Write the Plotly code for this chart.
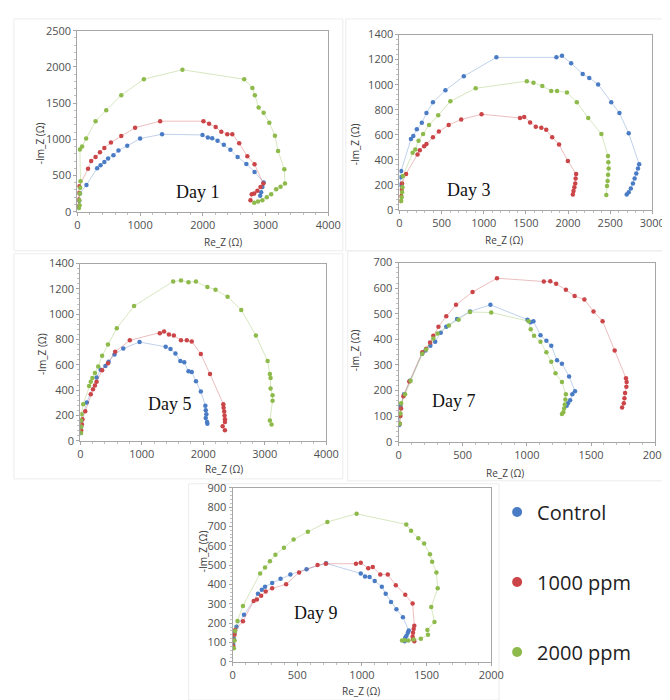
import plotly.graph_objects as go

# ---------------- data ----------------
series_names = ["Control", "1000 ppm", "2000 ppm"]
day_labels = ["Day 1", "Day 3", "Day 5", "Day 7", "Day 9"]

# Day 1
d1_ctrl_x = [20, 30, 40, 145, 315, 370, 430, 490, 575, 655, 795, 1000, 1350, 1995, 2080, 2150, 2235, 2335, 2440, 2555, 2695, 2825, 2970, 2950, 2930, 2915]
d1_ctrl_y = [60, 150, 250, 370, 600, 640, 685, 735, 780, 845, 910, 1010, 1070, 1060, 1025, 1015, 980, 925, 855, 755, 660, 550, 405, 340, 270, 220]
d1_1000_x = [15, 20, 25, 30, 170, 220, 290, 360, 430, 535, 700, 920, 1320, 2010, 2100, 2205, 2295, 2390, 2470, 2580, 2710, 2825, 2965, 2920, 2870, 2820, 2780, 2760]
d1_1000_y = [80, 170, 260, 350, 595, 700, 755, 820, 880, 955, 1045, 1160, 1250, 1250, 1215, 1170, 1105, 1070, 1070, 945, 765, 655, 390, 340, 290, 250, 240, 160]
d1_2000_x = [25, 35, 30, 40, 45, 50, 40, 75, 140, 290, 460, 700, 1060, 1675, 2660, 2790, 2830, 2890, 2970, 3060, 3150, 3200, 3300, 3310, 3240, 3170, 3090, 3020, 2950, 2880, 2820]
d1_2000_y = [50, 90, 160, 250, 330, 420, 860, 900, 1010, 1250, 1400, 1610, 1830, 1960, 1830, 1710, 1610, 1440, 1365, 1230, 1050, 840, 585, 390, 345, 310, 240, 200, 160, 140, 125]

# Day 3
d3_ctrl_x = [10, 15, 20, 136, 164, 206, 265, 320, 397, 545, 763, 1150, 1862, 1928, 2037, 2174, 2252, 2357, 2513, 2610, 2720, 2844, 2830, 2810, 2790, 2770, 2745, 2720, 2696]
d3_ctrl_y = [200, 260, 310, 565, 590, 643, 695, 773, 859, 955, 1067, 1218, 1218, 1231, 1171, 1085, 1054, 1002, 859, 773, 612, 364, 330, 290, 250, 210, 170, 140, 122]
d3_1000_x = [15, 20, 25, 30, 78, 214, 241, 292, 320, 397, 467, 584, 732, 974, 1430, 1480, 1550, 1617, 1683, 1741, 1812, 1893, 1998, 2096, 2090, 2085, 2075, 2065, 2057]
d3_1000_y = [70, 110, 160, 210, 286, 442, 476, 507, 526, 580, 625, 677, 721, 763, 734, 742, 698, 664, 656, 640, 580, 521, 390, 286, 250, 210, 180, 150, 122]
d3_2000_x = [20, 25, 30, 35, 40, 156, 187, 226, 280, 351, 460, 604, 904, 1511, 1590, 1695, 1800, 1870, 1987, 2104, 2240, 2396, 2474, 2478, 2482, 2475, 2470, 2462, 2454]
d3_2000_y = [70, 100, 140, 180, 270, 455, 481, 552, 606, 677, 755, 867, 971, 1028, 1015, 989, 950, 950, 937, 859, 734, 606, 429, 380, 330, 280, 230, 190, 117]

# Day 5
d5_ctrl_x = [10, 15, 20, 106, 265, 330, 408, 461, 556, 699, 964, 1388, 1467, 1547, 1626, 1690, 1759, 1812, 1881, 1960, 2034, 2040, 2050, 2040, 2061, 2066]
d5_ctrl_y = [60, 110, 160, 302, 500, 560, 590, 625, 682, 729, 780, 742, 724, 690, 630, 620, 548, 543, 470, 388, 276, 240, 210, 180, 147, 134]
d5_1000_x = [15, 25, 35, 80, 170, 207, 238, 265, 355, 450, 567, 805, 1293, 1362, 1441, 1521, 1637, 1732, 1812, 1960, 2109, 2326, 2330, 2340, 2345, 2352, 2352, 2315, 2352]
d5_1000_y = [80, 130, 170, 232, 367, 406, 437, 465, 556, 612, 703, 793, 850, 863, 840, 832, 793, 793, 785, 685, 527, 289, 260, 230, 200, 170, 147, 114, 83]
d5_2000_x = [10, 15, 12, 20, 48, 143, 170, 196, 238, 291, 355, 450, 593, 874, 1510, 1637, 1759, 1880, 2066, 2199, 2395, 2617, 2855, 3046, 3083, 3094, 3094, 3126, 3126, 3083, 3110]
d5_2000_y = [60, 110, 160, 210, 289, 432, 465, 496, 535, 587, 672, 760, 889, 1065, 1258, 1266, 1253, 1258, 1214, 1194, 1137, 1034, 832, 630, 527, 496, 413, 359, 315, 160, 129]

# Day 7
d7_ctrl_x = [5, 10, 15, 43, 89, 185, 210, 248, 286, 329, 372, 456, 557, 716, 1005, 1030, 1051, 1106, 1152, 1190, 1235, 1273, 1329, 1375, 1354, 1337, 1320, 1310]
d7_ctrl_y = [65, 100, 140, 185, 238, 344, 356, 375, 391, 426, 449, 480, 509, 535, 477, 467, 471, 416, 395, 375, 318, 305, 255, 197, 185, 162, 150, 140]
d7_1000_x = [10, 15, 20, 38, 84, 185, 215, 246, 271, 311, 372, 448, 577, 767, 1132, 1182, 1228, 1304, 1372, 1448, 1519, 1590, 1684, 1772, 1777, 1775, 1765, 1760, 1755, 1742]
d7_1000_y = [70, 100, 130, 178, 235, 350, 363, 388, 414, 449, 490, 535, 585, 639, 626, 627, 617, 594, 569, 556, 509, 471, 356, 248, 233, 215, 190, 170, 150, 134]
d7_2000_x = [10, 15, 20, 51, 94, 185, 215, 271, 304, 392, 468, 557, 722, 1013, 1030, 1056, 1106, 1152, 1190, 1223, 1273, 1304, 1300, 1295, 1290, 1284, 1273]
d7_2000_y = [70, 110, 150, 185, 238, 344, 360, 403, 423, 454, 477, 507, 505, 471, 439, 414, 391, 350, 312, 267, 233, 185, 165, 145, 130, 115, 108]

# Day 9
d9_ctrl_x = [5, 10, 15, 30, 88, 196, 226, 251, 306, 371, 447, 572, 723, 991, 1024, 1059, 1099, 1154, 1184, 1225, 1267, 1317, 1362, 1355, 1345, 1335, 1330]
d9_ctrl_y = [90, 120, 150, 182, 243, 352, 372, 388, 408, 429, 451, 479, 509, 457, 441, 438, 418, 388, 352, 309, 272, 231, 162, 150, 135, 124, 107]
d9_1000_x = [5, 10, 15, 20, 80, 163, 188, 221, 256, 306, 414, 514, 657, 721, 954, 991, 1049, 1084, 1142, 1200, 1262, 1335, 1392, 1405, 1400, 1395, 1392, 1397, 1405]
d9_1000_y = [80, 110, 140, 165, 210, 314, 322, 342, 363, 380, 401, 462, 500, 507, 507, 512, 484, 490, 451, 451, 396, 347, 302, 187, 170, 150, 130, 115, 107]
d9_2000_x = [10, 15, 20, 38, 80, 213, 251, 289, 331, 397, 472, 582, 733, 959, 1343, 1380, 1436, 1481, 1526, 1543, 1576, 1586, 1536, 1561, 1506, 1511, 1456, 1400, 1360, 1330, 1310]
d9_2000_y = [70, 110, 160, 211, 289, 457, 487, 520, 553, 590, 632, 672, 723, 765, 710, 677, 639, 611, 556, 517, 462, 380, 284, 206, 165, 140, 120, 115, 110, 112, 110]

days = [
    [(d1_ctrl_x, d1_ctrl_y), (d1_1000_x, d1_1000_y), (d1_2000_x, d1_2000_y)],
    [(d3_ctrl_x, d3_ctrl_y), (d3_1000_x, d3_1000_y), (d3_2000_x, d3_2000_y)],
    [(d5_ctrl_x, d5_ctrl_y), (d5_1000_x, d5_1000_y), (d5_2000_x, d5_2000_y)],
    [(d7_ctrl_x, d7_ctrl_y), (d7_1000_x, d7_1000_y), (d7_2000_x, d7_2000_y)],
    [(d9_ctrl_x, d9_ctrl_y), (d9_1000_x, d9_1000_y), (d9_2000_x, d9_2000_y)],
]

x_ranges = [4000, 3000, 4000, 2000, 2000]
x_dticks = [1000, 500, 1000, 500, 500]
y_ranges = [2500, 1400, 1400, 700, 900]
y_dticks = [500, 200, 200, 100, 100]

# ---------------- styling / layout ----------------
W, H = 670, 700
marker_colors = ["#4A7CC6", "#CB4548", "#8DBA4A"]
line_colors = ["rgba(74,124,198,0.35)", "rgba(203,69,72,0.35)", "rgba(141,186,74,0.35)"]

# plot areas in pixels: (left, right, top, bottom)
plot_px = [(68, 325, 15, 200), (398, 657, 19, 198), (71, 323, 253, 434),
           (397, 660, 252, 435), (227, 492, 482, 660)]
frames_px = [(3, 340, 3, 240), (343, 668, 3, 240), (3, 340, 243, 473),
             (345, 668, 240, 475), (182, 500, 478, 699)]
day_pos = [(167, 168), (494, 166), (138, 396), (478, 393), (312, 622)]
ytitle_pos = [(20, 107), (352, 108), (22, 345), (352, 342), (187, 571)]
xtitle_pos = [(196, 231), (527, 229), (197, 463), (528, 467), (359, 690)]

tick_font = dict(family="Open Sans", size=11, color="#505050")
title_font = dict(family="Open Sans", size=10, color="#404040")

fig = go.Figure()
layout = dict(width=W, height=H, margin=dict(l=0, r=0, t=0, b=0),
              paper_bgcolor="white", plot_bgcolor="white", showlegend=True)
annotations = []
shapes = []

for i, day in enumerate(days):
    ax = "" if i == 0 else str(i + 1)
    l, r, t, b = plot_px[i]
    xd = [l / W, r / W]
    yd = [1 - b / H, 1 - t / H]
    layout["xaxis" + ax] = dict(
        domain=xd, range=[0, x_ranges[i]], dtick=x_dticks[i], anchor="y" + ax,
        showgrid=False, zeroline=False, showline=True, mirror=True,
        linecolor="#a6a6a6", linewidth=1, ticks="outside", ticklen=3,
        tickcolor="#a6a6a6", tickfont=tick_font,
        minor=dict(dtick=x_dticks[i] / 5, ticks="outside", ticklen=2, tickcolor="#c0c0c0"))
    layout["yaxis" + ax] = dict(
        domain=yd, range=[0, y_ranges[i]], dtick=y_dticks[i], anchor="x" + ax,
        showgrid=False, zeroline=False, showline=True, mirror=True,
        linecolor="#a6a6a6", linewidth=1, ticks="outside", ticklen=3,
        tickcolor="#a6a6a6", tickfont=tick_font,
        minor=dict(dtick=y_dticks[i] / 5, ticks="outside", ticklen=2, tickcolor="#c0c0c0"))
    for s, (xs, ys) in enumerate(day):
        fig.add_trace(go.Scatter(
            x=xs, y=ys, mode="lines+markers", xaxis="x" + ax, yaxis="y" + ax,
            line=dict(color=line_colors[s], width=1),
            marker=dict(color=marker_colors[s], size=4.5),
            showlegend=False, name=series_names[s], hoverinfo="skip"))
    annotations.append(dict(text=day_labels[i], x=day_pos[i][0] / W, y=1 - day_pos[i][1] / H,
                            xref="paper", yref="paper", showarrow=False,
                            font=dict(family="Liberation Serif", size=18, color="#111111")))
    annotations.append(dict(text="-Im_Z (Ω)", x=ytitle_pos[i][0] / W, y=1 - ytitle_pos[i][1] / H,
                            xref="paper", yref="paper", showarrow=False, textangle=-90,
                            font=title_font))
    annotations.append(dict(text="Re_Z (Ω)", x=xtitle_pos[i][0] / W, y=1 - xtitle_pos[i][1] / H,
                            xref="paper", yref="paper", showarrow=False, font=title_font,
                            yanchor="middle"))
    fl, fr, ft, fb = frames_px[i]
    shapes.append(dict(type="rect", xref="paper", yref="paper", x0=fl / W, x1=fr / W,
                       y0=1 - fb / H, y1=1 - ft / H, line=dict(color="#ececec", width=1),
                       layer="below"))

# legend entries (marker only)
for s in range(3):
    fig.add_trace(go.Scatter(
        x=[None], y=[None], mode="markers", name=series_names[s],
        marker=dict(color=marker_colors[s], size=10), legendgroup=str(s),
        showlegend=True))

layout["annotations"] = annotations
layout["shapes"] = shapes
layout["legend"] = dict(x=498 / W, y=1 - 487 / H, xanchor="left", yanchor="top",
                        font=dict(family="Open Sans", size=20, color="#222222"),
                        tracegroupgap=41, bgcolor="rgba(0,0,0,0)", itemsizing="trace")
fig.update_layout(**layout)
fig.write_html("out.html")
